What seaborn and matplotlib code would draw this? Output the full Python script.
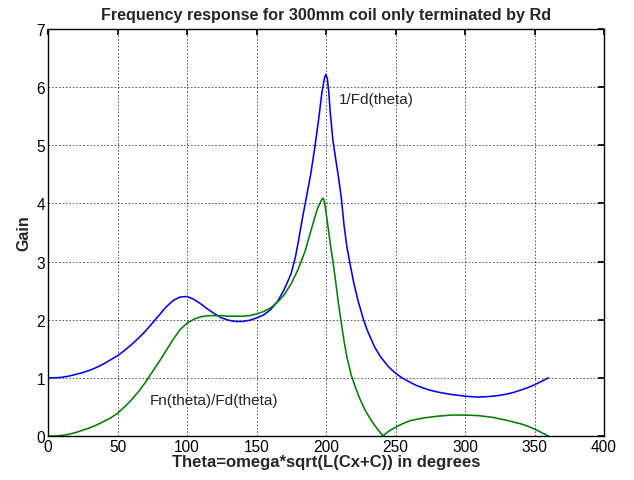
import matplotlib
matplotlib.use("Agg")
import matplotlib.pyplot as plt
import seaborn as sns
import pandas as pd
import numpy as np

# 1/Fd(theta) (blue)
theta_blue = [0, 5, 10, 15, 20, 25, 30, 35, 40, 45, 50, 55, 60, 65, 70, 75, 80, 85, 90, 95,
              100, 105, 110, 115, 120, 125, 130, 135, 140, 145, 150, 155, 160, 165, 170, 175,
              178, 180, 183, 186, 189, 192, 195, 197, 199, 200, 201, 202, 203, 205, 207, 209,
              211, 213, 215, 217, 220, 223, 227, 230, 235, 239, 245, 250, 255, 260, 265, 270,
              275, 280, 285, 290, 295, 300, 305, 310, 315, 320, 325, 330, 335, 340, 345, 350,
              355, 360]
gain_blue = [1.00, 1.00, 1.01, 1.03, 1.06, 1.09, 1.13, 1.18, 1.24, 1.31, 1.38, 1.47, 1.57, 1.68,
             1.80, 1.94, 2.08, 2.22, 2.33, 2.39, 2.40, 2.35, 2.27, 2.18, 2.10, 2.03, 1.99, 1.97,
             1.97, 1.99, 2.03, 2.08, 2.17, 2.31, 2.52, 2.80, 3.08, 3.33, 3.74, 4.12, 4.50, 4.97,
             5.50, 5.90, 6.17, 6.22, 6.14, 5.92, 5.58, 5.08, 4.76, 4.45, 4.10, 3.62, 3.26, 3.00,
             2.63, 2.33, 2.00, 1.80, 1.53, 1.37, 1.19, 1.08, 0.995, 0.93, 0.87, 0.825, 0.787, 0.758,
             0.735, 0.715, 0.70, 0.685, 0.675, 0.67, 0.675, 0.685, 0.70, 0.72, 0.75, 0.79, 0.83,
             0.88, 0.94, 1.00]

# Fn(theta)/Fd(theta) (green)
theta_green = [0, 5, 10, 15, 20, 25, 30, 35, 40, 45, 50, 55, 60, 65, 70, 75, 80, 85, 90, 95,
               100, 105, 110, 115, 120, 125, 130, 135, 140, 145, 150, 155, 160, 165, 170, 175,
               180, 185, 190, 194, 197, 198, 199, 201, 203, 205, 207, 209, 211, 213, 215, 218,
               221, 224, 228, 233, 237, 241, 245, 250, 255, 260, 270, 280, 290, 300, 310, 320,
               330, 340, 345, 350, 355, 360]
gain_green = [0.00, 0.00, 0.01, 0.03, 0.06, 0.10, 0.14, 0.19, 0.25, 0.31, 0.39, 0.50, 0.62, 0.76,
              0.92, 1.10, 1.28, 1.47, 1.66, 1.83, 1.94, 2.01, 2.05, 2.07, 2.07, 2.07, 2.06, 2.06,
              2.06, 2.07, 2.10, 2.14, 2.20, 2.30, 2.43, 2.62, 2.87, 3.18, 3.60, 3.92, 4.07, 4.09,
              4.02, 3.68, 3.32, 3.00, 2.65, 2.27, 1.95, 1.63, 1.36, 1.06, 0.85, 0.66, 0.45, 0.25,
              0.12, 0.00, 0.08, 0.15, 0.21, 0.26, 0.31, 0.34, 0.36, 0.36, 0.35, 0.32, 0.27, 0.21,
              0.17, 0.12, 0.06, 0.00]

title = "Frequency response for 300mm coil only terminated by Rd"
xlabel = "Theta=omega*sqrt(L(Cx+C)) in degrees"
ylabel = "Gain"

sns.set_theme(style="white")
plt.rcParams['font.family'] = ['Liberation Sans', 'DejaVu Sans']

df_b = pd.DataFrame({"theta": theta_blue, "gain": gain_blue})
df_g = pd.DataFrame({"theta": theta_green, "gain": gain_green})

fig = plt.figure(figsize=(6.34, 4.81), dpi=100)
ax = fig.add_axes([48 / 634, 44 / 481, 556 / 634, 407 / 481])

sns.lineplot(data=df_b, x="theta", y="gain", ax=ax, color="#0000ff", lw=1.15, sort=False)
sns.lineplot(data=df_g, x="theta", y="gain", ax=ax, color="#008000", lw=1.15, sort=False)

ax.set_xlim(0, 400)
ax.set_ylim(0, 7)
ax.set_xticks(np.arange(0, 401, 50))
ax.set_yticks(np.arange(0, 8, 1))
ax.grid(True, color="black", linestyle=(0, (2.5, 2.5)), linewidth=0.5, alpha=0.85)
ax.tick_params(direction="in", top=True, right=True, length=4, labelsize=11.2, pad=2,
               colors="black")
for s in ax.spines.values():
    s.set_color("black")
    s.set_linewidth(1.0)

ax.set_title(title, fontsize=11.6, fontweight="bold", pad=7)
ax.set_xlabel(xlabel, fontsize=12, fontweight="bold", labelpad=0)
ax.set_ylabel(ylabel, fontsize=11.5, fontweight="bold", labelpad=4)

ax.text(209, 5.8, "1/Fd(theta)", fontsize=11, va="center", ha="left")
ax.text(73, 0.62, "Fn(theta)/Fd(theta)", fontsize=11, va="center", ha="left")

fig.savefig("out.png", dpi=100, facecolor="white")
